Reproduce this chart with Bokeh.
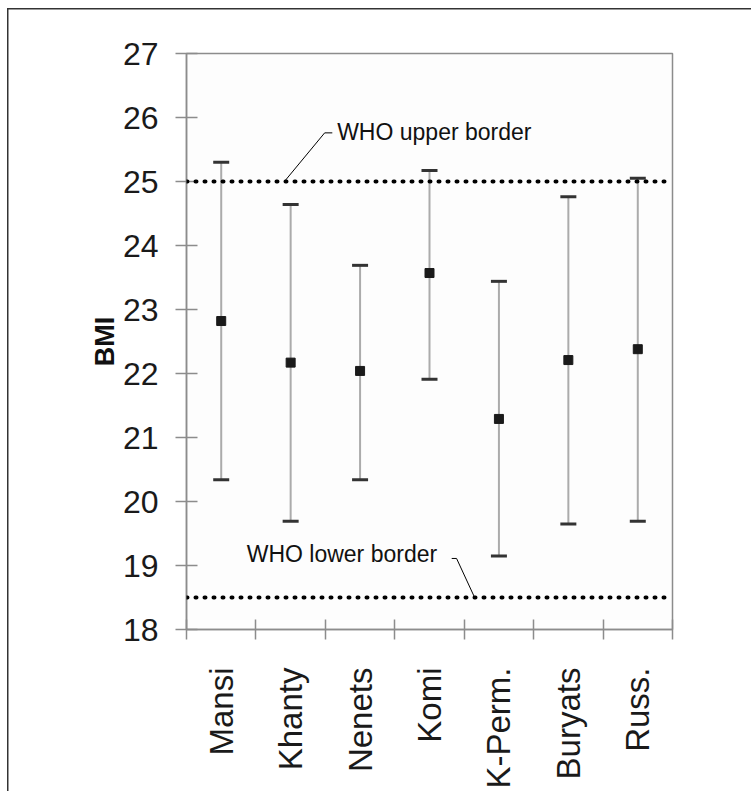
import math
from bokeh.plotting import figure
from bokeh.models import FixedTicker, Span, ColumnDataSource
from bokeh.embed import file_html
from bokeh.resources import INLINE
from bokeh.core.properties import value

# ---- data ----
groups = ["Mansi", "Khanty", "Nenets", "Komi", "K-Perm.", "Buryats", "Russ."]
bmi_mean = [22.82, 22.17, 22.04, 23.57, 21.29, 22.21, 22.38]
bmi_low = [20.34, 19.69, 20.34, 21.91, 19.15, 19.65, 19.69]
bmi_high = [25.30, 24.64, 23.69, 25.17, 23.44, 24.76, 25.05]
y_ticks = [18, 19, 20, 21, 22, 23, 24, 25, 26, 27]
who_upper = 25.0
who_lower = 18.5
who_upper_text = "WHO upper border"
who_lower_text = "WHO lower border"

FONT = "Liberation Sans"
GRAY = "#8c8c8c"

xpos = [i + 0.5 for i in range(len(groups))]
src = ColumnDataSource(dict(x=xpos, mean=bmi_mean, low=bmi_low, high=bmi_high))

frame_styles = {
    "background-color": "white",
    "background-image": "linear-gradient(#333333, #333333), linear-gradient(#333333, #333333)",
    "background-size": "1.5px 100%, 100% 1.5px",
    "background-position": "7px 8px, 7px 8px",
    "background-repeat": "no-repeat",
}

p = figure(width=751, height=791, x_range=(0, len(groups)), y_range=(18, 27),
           output_backend="svg", toolbar_location=None,
           min_border_left=186, min_border_right=79, min_border_top=53,
           min_border_bottom=161,
           background_fill_color="#fdfdfd", border_fill_color=None,
           styles=frame_styles)
p.grid.visible = False
p.outline_line_color = GRAY
p.outline_line_width = 1.5

# WHO border lines
for yv in (who_upper, who_lower):
    p.add_layout(Span(location=yv, dimension="width", line_color="black",
                      line_width=4, line_dash="1 8", line_cap="round"))

# error bars
p.segment(x0="x", y0="low", x1="x", y1="high", source=src,
          line_color="#ababab", line_width=2)
p.scatter(x="x", y="low", source=src, marker="dash", size=16,
          line_color="#333333", line_width=3)
p.scatter(x="x", y="high", source=src, marker="dash", size=16,
          line_color="#333333", line_width=3)
p.scatter(x="x", y="mean", source=src, marker="square", size=9,
          fill_color="#1a1a1a", line_color="#1a1a1a")

# annotation leaders (annotation positions in data units)
p.line(x=[1.41, 1.99, 2.10], y=[who_upper, 25.76, 25.76], line_color="black", line_width=1)
p.line(x=[4.15, 3.89, 3.82], y=[who_lower, 19.11, 19.11], line_color="black", line_width=1)
p.text(x=[2.17], y=[25.77], text=[who_upper_text], text_font=value(FONT),
       text_font_size="23px", text_baseline="middle", text_align="left",
       text_color="#111111")
p.text(x=[3.61], y=[19.18], text=[who_lower_text], text_font=value(FONT),
       text_font_size="23px", text_baseline="middle", text_align="right",
       text_color="#111111")

# y axis
ya = p.yaxis[0]
ya.ticker = FixedTicker(ticks=y_ticks)
ya.axis_line_color = GRAY
ya.axis_line_width = 1.5
ya.major_tick_line_color = GRAY
ya.major_tick_line_width = 1.5
ya.major_tick_in = 11
ya.major_tick_out = 11
ya.minor_tick_line_color = None
ya.major_label_text_font = FONT
ya.major_label_text_font_size = "32px"
ya.major_label_text_color = "#1a1a1a"
ya.major_label_standoff = 17
ya.axis_label = "BMI"
ya.axis_label_text_font = FONT
ya.axis_label_text_font_size = "27px"
ya.axis_label_text_font_style = "bold"
ya.axis_label_text_color = "#111111"
ya.axis_label_standoff = 0

# x axis
xa = p.xaxis[0]
xa.ticker = FixedTicker(ticks=xpos, minor_ticks=list(range(len(groups) + 1)))
xa.major_label_overrides = {xv: g for xv, g in zip(xpos, groups)}
xa.axis_line_color = GRAY
xa.axis_line_width = 1.5
xa.major_tick_line_color = None
xa.major_tick_in = 0
xa.major_tick_out = 0
xa.minor_tick_line_color = GRAY
xa.minor_tick_line_width = 1.5
xa.minor_tick_in = 10
xa.minor_tick_out = 10
xa.major_label_orientation = math.pi / 2
xa.major_label_standoff = 28
xa.major_label_text_font = FONT
xa.major_label_text_font_size = "33px"
xa.major_label_text_color = "#1a1a1a"

open("out.html", "w").write(file_html(p, INLINE))
